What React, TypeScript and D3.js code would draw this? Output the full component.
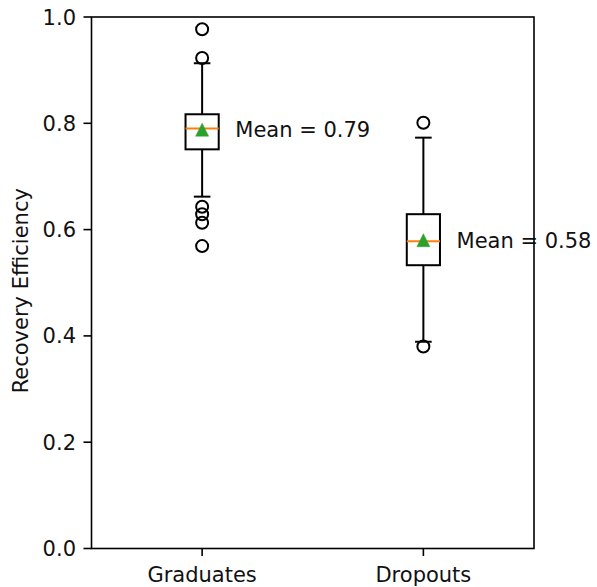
import React from "react";
import * as d3 from "d3";

const categories = ["Graduates", "Dropouts"];
const q1 = [0.751, 0.533];
const medians = [0.79, 0.578];
const q3 = [0.817, 0.629];
const whiskerLow = [0.662, 0.389];
const whiskerHigh = [0.913, 0.773];
const means = [0.788, 0.58];
const outliers = [
  [0.977, 0.923, 0.643, 0.629, 0.613, 0.569],
  [0.801, 0.38],
];
const yTicks = [0, 0.2, 0.4, 0.6, 0.8, 1.0];

const W = 597;
const H = 587;
const FONT = "DejaVu Sans, sans-serif";
const FS = 21;
const TXT = "#111";

export default function App() {
  const x = d3.scaleLinear().domain([0.5, 2.5]).range([91.5, 534]);
  const y = d3.scaleLinear().domain([0, 1]).range([548.5, 17]);
  const boxHalf = (x(0.15) - x(0)) / 2;
  const capHalf = boxHalf / 2;
  const triPath = `M0,-6.5L6.5,6.5L-6.5,6.5Z`;
  return (
    <svg
      width={W}
      height={H}
      style={{ position: "absolute", left: 0, top: 0, background: "#fff" }}
      fontFamily={FONT}
    >
      <rect x={0} y={0} width={W} height={H} fill="#fff" />
      {categories.map((c, i) => {
        const cx = x(i + 1);
        return (
          <g key={c}>
            <line x1={cx} x2={cx} y1={y(q1[i])} y2={y(whiskerLow[i])} stroke="#000" strokeWidth={2} />
            <line x1={cx} x2={cx} y1={y(q3[i])} y2={y(whiskerHigh[i])} stroke="#000" strokeWidth={2} />
            <line x1={cx - capHalf} x2={cx + capHalf} y1={y(whiskerLow[i])} y2={y(whiskerLow[i])} stroke="#000" strokeWidth={2} />
            <line x1={cx - capHalf} x2={cx + capHalf} y1={y(whiskerHigh[i])} y2={y(whiskerHigh[i])} stroke="#000" strokeWidth={2} />
            <rect
              x={cx - boxHalf}
              y={y(q3[i])}
              width={boxHalf * 2}
              height={y(q1[i]) - y(q3[i])}
              fill="none"
              stroke="#000"
              strokeWidth={2}
            />
            <line x1={cx - boxHalf} x2={cx + boxHalf} y1={y(medians[i])} y2={y(medians[i])} stroke="#ff7f0e" strokeWidth={2} />
            {outliers[i].map((v, j) => (
              <circle key={j} cx={cx} cy={y(v)} r={6} fill="none" stroke="#000" strokeWidth={2} />
            ))}
            <path d={triPath} transform={`translate(${cx},${y(means[i])})`} fill="#2ca02c" stroke="#2ca02c" strokeWidth={0.5} />
            <text
              x={x(i + 1 + 0.15)}
              y={y(means[i])}
              dy="0.36em"
              fontSize={FS}
              fill={TXT}
            >
              {`Mean = ${means[i].toFixed(2)}`}
            </text>
          </g>
        );
      })}
      {/* spines */}
      <rect x={91.5} y={17} width={534 - 91.5} height={548.5 - 17} fill="none" stroke="#000" strokeWidth={1.6} />
      {/* y ticks */}
      {yTicks.map((t) => (
        <g key={t}>
          <line x1={83.5} x2={91.5} y1={y(t)} y2={y(t)} stroke="#000" strokeWidth={1.6} />
          <text x={76} y={y(t)} dy="0.36em" textAnchor="end" fontSize={FS} fill={TXT}>
            {t.toFixed(1)}
          </text>
        </g>
      ))}
      {/* x ticks */}
      {categories.map((c, i) => (
        <g key={c}>
          <line x1={x(i + 1)} x2={x(i + 1)} y1={548.5} y2={556} stroke="#000" strokeWidth={1.6} />
          <text x={x(i + 1)} y={581.5} textAnchor="middle" fontSize={FS} fill={TXT}>
            {c}
          </text>
        </g>
      ))}
      <text
        transform={`translate(28,${(17 + 548.5) / 2 + 8}) rotate(-90)`}
        textAnchor="middle"
        fontSize={FS}
        fill={TXT}
      >
        Recovery Efficiency
      </text>
    </svg>
  );
}
